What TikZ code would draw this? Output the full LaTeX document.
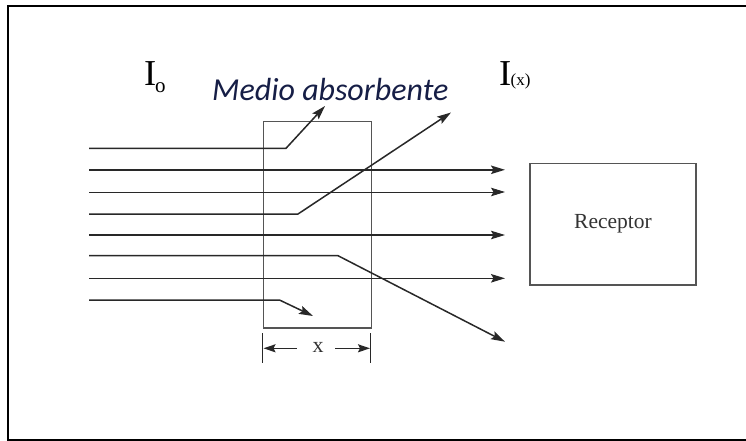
\documentclass[tikz,border=0pt]{standalone}
\usepackage{fontspec}
\setmainfont{Liberation Serif}
\newfontfamily\labelfont{Carlito}
\usetikzlibrary{arrows.meta}
\definecolor{inkgray}{RGB}{40,40,40}
\definecolor{boxgray}{RGB}{85,85,85}
\definecolor{navytext}{RGB}{22,30,70}
\tikzset{
  ray/.style={line width=1.5pt, draw=inkgray, -{Stealth[length=14pt,width=8.5pt,inset=2.5pt]}},
  thinray/.style={ray, line width=0.9pt},
  plain/.style={line width=1.5pt, draw=inkgray},
  dimarrow/.style={line width=1.5pt, draw=inkgray, -{Stealth[length=12pt,width=8pt,inset=2pt]}},
  medbox/.style={draw=boxgray, line width=1.7pt, inner sep=0pt, anchor=north west},
  recbox/.style={draw=boxgray, line width=1.3pt, inner sep=0pt, anchor=north west},
}
\begin{document}
\begin{tikzpicture}[x=1pt,y=-1pt]
\useasboundingbox (0,0) rectangle (746,441);
% frame
\draw[line width=2pt, black] (746,6) -- (8,6) -- (8,440) -- (746,440);

% absorbing medium and receiver
\node[medbox, minimum width=108pt, minimum height=206.6pt] (med) at (262.7,120.7) {};
\node[recbox, minimum width=166pt, minimum height=121.6pt] (rec) at (529.3,162.7) {};
\node[font=\fontsize{21.5}{21.5}\selectfont, text=black!80] (rectext) at (613,224) {Receptor};

% labels
\node[anchor=base west, inner sep=0pt] (io) at (144,85.5) {\fontsize{36.5}{36.5}\selectfont I};
\node[anchor=base west, inner sep=0pt] (iosub) at (155,93) {\fontsize{21}{21}\selectfont o};
\node[anchor=base west, inner sep=0pt] (ix) at (499,85.5) {\fontsize{36.5}{36.5}\selectfont I};
\node[anchor=base west, inner sep=0pt] (ixsub) at (510.5,85.5) {\fontsize{17}{17}\selectfont (x)};
\node[anchor=base west, inner sep=0pt, text=navytext] (medlabel) at (212,100.7) {\labelfont\itshape\fontsize{32}{32}\selectfont Medio absorbente};

% ray coordinates
\coordinate (s1) at (89,148.3);  \coordinate (b1) at (286,148.3); \coordinate (t1) at (325,106);
\coordinate (s2) at (89,169.8);  \coordinate (t2) at (505,169.8);
\coordinate (s3) at (89,192);    \coordinate (t3) at (505,192);
\coordinate (s4) at (89,214);    \coordinate (b4) at (298,214);   \coordinate (t4) at (451,112.5);
\coordinate (s5) at (89,235);    \coordinate (t5) at (505,235);
\coordinate (s6) at (89,255.7);  \coordinate (b6) at (338,255.7); \coordinate (t6) at (505,341.7);
\coordinate (s7) at (89,278.3);  \coordinate (t7) at (505,278.3);
\coordinate (s8) at (89,300);    \coordinate (b8) at (279.5,300); \coordinate (t8) at (313,316);

\draw[ray] (s1) -- (b1) -- (t1);
\draw[ray] (s2) -- (t2);
\draw[thinray] (s3) -- (t3);
\draw[ray] (s4) -- (b4) -- (t4);
\draw[ray] (s5) -- (t5);
\draw[ray] (s6) -- (b6) -- (t6);
\draw[ray] (s7) -- (t7);
\draw[ray] (s8) -- (b8) -- (t8);

% thickness dimension
\coordinate (d1a) at (262.7,333); \coordinate (d1b) at (262.7,363);
\coordinate (d2a) at (370.7,333); \coordinate (d2b) at (370.7,363);
\draw[plain] (d1a) -- (d1b);
\draw[plain] (d2a) -- (d2b);
\node[inner sep=1pt, font=\fontsize{22}{22}\selectfont, text=black!80] (xlab) at (318,347) {x};
\coordinate (la) at (296.5,348.3); \coordinate (lt) at (263.5,348.3);
\coordinate (ra) at (335,348.3);   \coordinate (rt) at (370,348.3);
\draw[dimarrow] (la) -- (lt);
\draw[dimarrow] (ra) -- (rt);
\end{tikzpicture}
\end{document}
